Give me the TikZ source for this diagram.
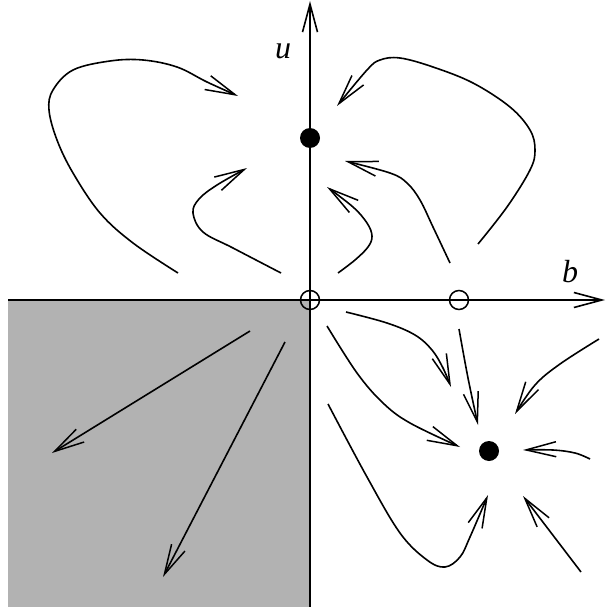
\documentclass[tikz,border=0pt]{standalone}
\usepackage{fontspec}
\setmainfont{Liberation Serif}
\usetikzlibrary{arrows.meta}
\tikzset{
  traj/.style={line width=1.6pt, -{Straight Barb[length=30pt,width=15pt,line width=1.5pt]}},
  axisline/.style={line width=1.9pt},
  fixfull/.style={circle, fill=black, inner sep=0pt, minimum size=20pt},
  fixopen/.style={circle, draw=black, line width=1.5pt, inner sep=0pt, minimum size=19pt},
  axlabel/.style={font=\fontsize{32}{36}\selectfont\itshape, inner sep=0pt}
}
\begin{document}
\begin{tikzpicture}[x=1pt,y=-1pt]
\useasboundingbox (0,0) rectangle (605,607);
\fill[black!30] (8,300) rectangle (310,607);
% axes
\coordinate (xs) at (8,300);
\coordinate (xe) at (605,300);
\coordinate (ys) at (310,607);
\coordinate (ye) at (310,1);
\draw[axisline, -{Straight Barb[length=28pt,width=15pt,line width=1.6pt]}] (xs) -- (xe);
\draw[axisline, -{Straight Barb[length=28pt,width=15pt,line width=1.6pt]}] (ys) -- (ye);
\node[axlabel] (u) at (283,51) {u};
\node[axlabel] (b) at (570,272) {b};
% fixed points
\node[fixopen] (o) at (310,300) {};
\node[fixopen] (s) at (459,300) {};
\node[fixfull] (p1) at (310,138) {};
\node[fixfull] (p2) at (489,451) {};
% trajectories upper half
\draw[traj] plot[smooth, tension=0.6] coordinates {(178,273) (133,243) (100,213) (73,173) (57,140) (49,110) (53,90) (73,70) (110,61) (143,60) (177,67) (207,82) (238,96)};
\draw[traj] plot[smooth, tension=0.6] coordinates {(281,273) (233,248) (203,232) (193,213) (199,199) (217,185) (247,168)};
\draw[traj] plot[smooth, tension=0.6] coordinates {(478,244) (507,207) (530,170) (535,150) (530,130) (510,107) (473,83) (433,67) (400,58) (380,60) (367,70) (337,106)};
\draw[traj] plot[smooth, tension=0.6] coordinates {(450,263) (433,227) (420,200) (407,183) (390,173) (345,161)};
\draw[traj] plot[smooth, tension=0.6] coordinates {(338,273) (355,260) (368,247) (372,236) (367,223) (353,207) (327,187)};
% lower right
\draw[traj] plot[smooth, tension=0.6] coordinates {(346,312) (387,323) (415,335) (432,350) (443,368) (451,387)};
\draw[traj] plot[smooth, tension=0.6] coordinates {(459,329) (468,378) (478,425)};
\draw[traj] plot[smooth, tension=0.6] coordinates {(327,326) (357,373) (383,403) (410,423) (460,447)};
\draw[traj] plot[smooth, tension=0.6] coordinates {(599,339) (560,364) (535,385) (515,414)};
\draw[traj] plot[smooth, tension=0.6] coordinates {(590,459) (575,453) (553,450) (523,450)};
\draw[traj] (581,572) -- (523,496);
\draw[traj] plot[smooth, tension=0.6] coordinates {(328,404) (367,477) (400,533) (427,560) (445,567) (460,557) (470,537) (488,495)};
% lower left
\draw[traj] (250,331) -- (52,453);
\draw[traj] (285,342) -- (163,577);
\end{tikzpicture}
\end{document}
